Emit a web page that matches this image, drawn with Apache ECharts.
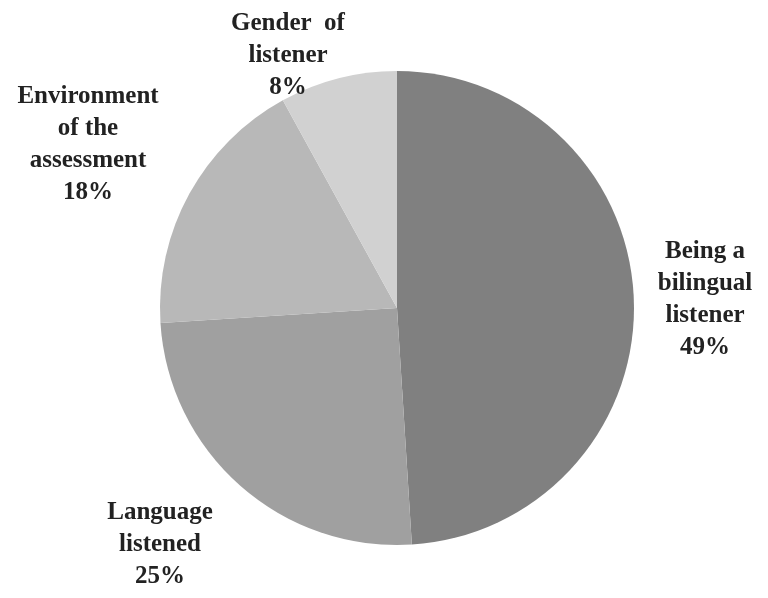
<!DOCTYPE html>
<html>
<head>
<meta charset="utf-8">
<script src="https://cdn.jsdelivr.net/npm/echarts@6/dist/echarts.min.js"></script>
<style>
  html, body { margin: 0; padding: 0; background: #fff; }
  #chart { width: 768px; height: 598px; }
</style>
</head>
<body>
<div id="chart"></div>
<script>
// 数据
var categories = ['Being a\nbilingual\nlistener', 'Language\nlistened', 'Environment\nof the\nassessment', 'Gender  of\nlistener'];
var values = [49, 25, 18, 8];
var colors = ['#808080', '#a0a0a0', '#b8b8b8', '#d1d1d1'];
// label centres
var labelPos = [[705, 300], [160, 545], [88, 145], [288, 56]];

var myChart = echarts.init(document.getElementById('chart'));
var option = {
    animation: false,
    series: [
        {
            type: 'pie',
            center: [397, 308],
            radius: [0, 237],
            startAngle: 90,
            clockwise: true,
            silent: true,
            label: {
                show: true,
                position: 'outside',
                formatter: '{b}\n{d}%',
                fontFamily: '"Liberation Serif", "DejaVu Serif", serif',
                fontWeight: 'bold',
                fontSize: 25,
                lineHeight: 32,
                color: '#222222',
                align: 'center',
                overflow: 'none'
            },
            labelLine: { show: false },
            labelLayout: function (params) {
                var p = labelPos[params.dataIndex];
                return {
                    x: p[0],
                    y: p[1],
                    align: 'center',
                    verticalAlign: 'middle'
                };
            },
            itemStyle: { borderWidth: 0 },
            data: values.map(function (v, i) {
                return {
                    name: categories[i],
                    value: v,
                    itemStyle: { color: colors[i] }
                };
            })
        }
    ]
};
myChart.setOption(option);
</script>
</body>
</html>
